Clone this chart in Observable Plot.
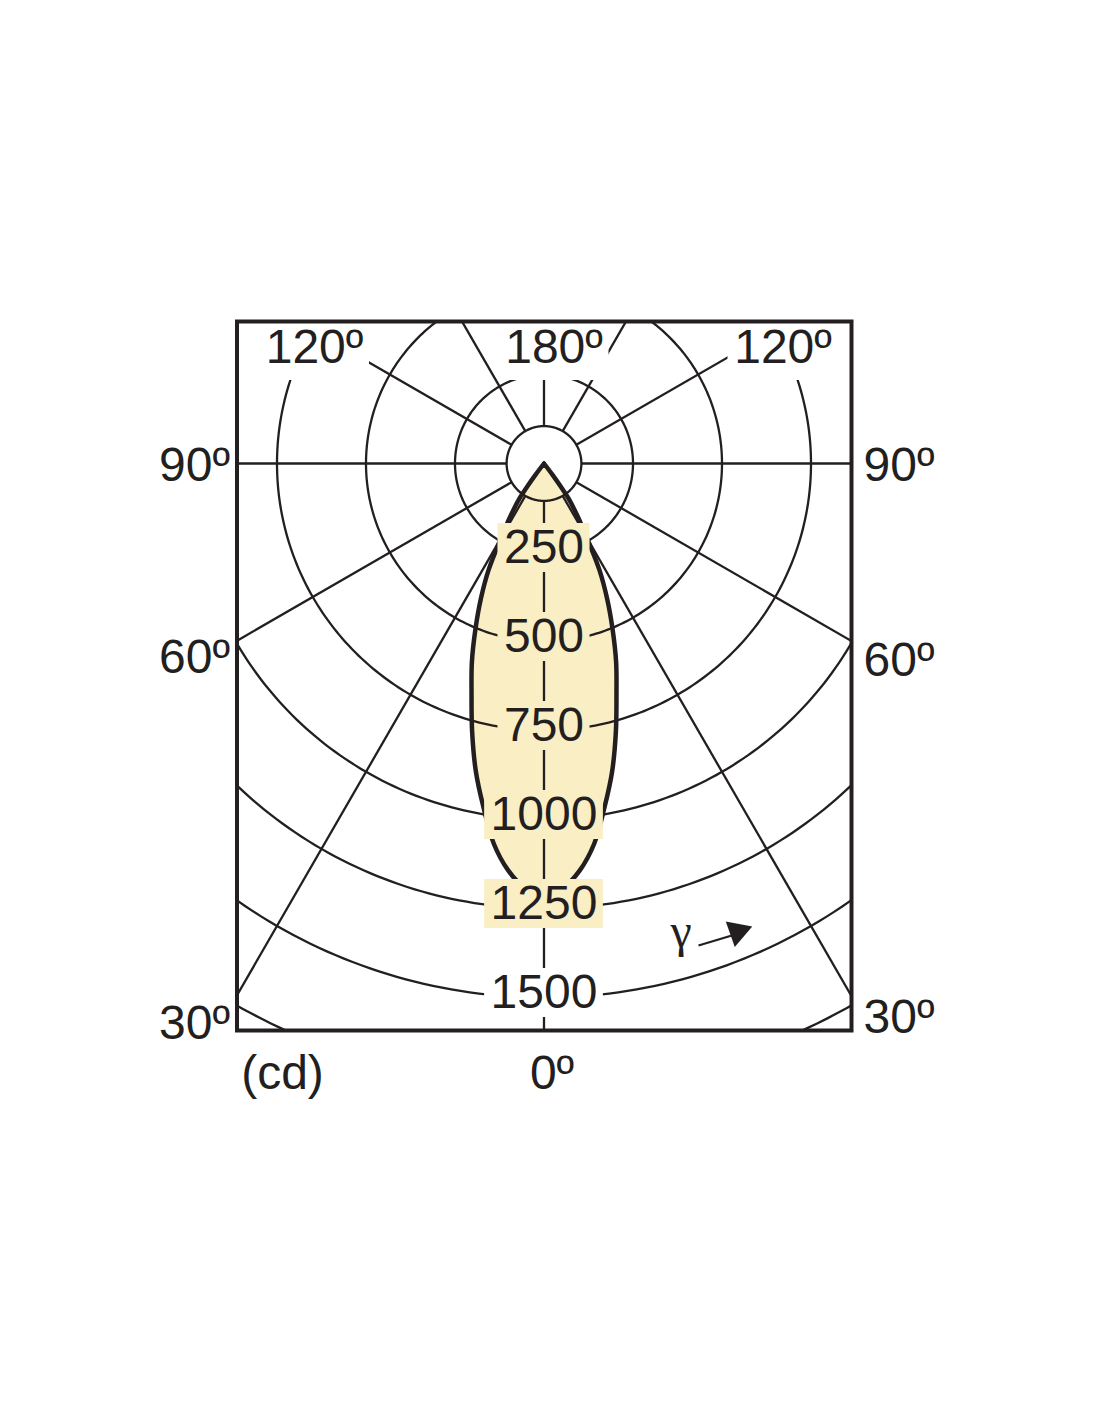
<!DOCTYPE html>
<html><head><meta charset="utf-8">
<script src="https://cdn.jsdelivr.net/npm/d3@7"></script>
<script src="https://cdn.jsdelivr.net/npm/@observablehq/plot@0.6"></script>
<style>html,body{margin:0;padding:0;background:#fff}</style>
</head><body><div id="chart"></div>
<script>
// ---- data ----
const gammaDeg    = [0, 2.5, 5, 7.5, 10, 12.5, 15, 17.5, 20, 22.5, 25, 27.5, 30, 32.5, 35, 36, 37, 38];
const intensityCd = [1215, 1195, 1148, 1078, 980, 885, 780, 677, 592, 503, 420, 337, 240, 175, 120, 80, 40, 0];
const ringValues  = [250, 500, 750, 1000, 1250, 1500, 1750];
const ringLabels  = ["250", "500", "750", "1000", "1250", "1500"];
const spokeAngles = [-150, -120, -90, -60, -30, 0, 30, 60, 90, 120, 150, 180];
const innerRadius = 105;
const topLabels   = ["120º", "180º", "120º"];
const leftLabels  = ["90º", "60º", "30º"];
const rightLabels = ["90º", "60º", "30º"];
const unitLabel   = "(cd)";
const zeroLabel   = "0º";
const gammaLabel  = "γ";

// ---- layout helpers ----
const k = 250 / 89;              // cd per pixel
const cx = 543.5, cy = 463;      // pole position in pixels
const toX = px => (px - cx) * k;
const toY = py => (cy - py) * k;
const rad = d => d * Math.PI / 180;
const ink = "#231f20";
const cream = "#faeec4";
const FS = 48;

// beam outline (symmetric)
const half = gammaDeg.map((g, i) => ({g, I: intensityCd[i]}));
const outline = [...half.slice(1).reverse().map(d => ({g: -d.g, I: d.I})), ...half]
  .map(d => ({x: d.I * Math.sin(rad(d.g)), y: -d.I * Math.cos(rad(d.g))}));

// rings
const ringPts = [...ringValues, innerRadius].flatMap(r =>
  d3.range(0, 361, 1).map(a => ({ring: r, x: r * Math.sin(rad(a)), y: -r * Math.cos(rad(a))})));

// ring label boxes
const ringLab = ringLabels.map(t => {
  const v = +t, w = t.length * 0.556 * FS + 12;
  return {t, v, x1: -w / 2 * k, x2: w / 2 * k, y1: -v - 20 * k, y2: -v + 29 * k};
});

const topPos = [314, 553.5, 782.5];
const topLab = topLabels.map((t, i) => {
  const x = toX(topPos[i]), w = 110 * k;
  return {t, x, y: toY(362), x1: x - w / 2, x2: x + w / 2, y1: toY(380), y2: toY(300)};
});
const leftY = [480, 672, 1038], rightY = [480, 675, 1032];
const leftLab = leftLabels.map((t, i) => ({t, x: toX(229.5), y: toY(leftY[i])}));
const rightLab = rightLabels.map((t, i) => ({t, x: toX(863), y: toY(rightY[i])}));
const bottomLab = [{t: unitLabel, x: toX(282), y: toY(1088)}, {t: zeroLabel, x: toX(551.5), y: toY(1088)}];

const plot = Plot.plot({
  width: 1100, height: 1422,
  marginLeft: 236.5, marginRight: 249, marginTop: 321, marginBottom: 392,
  x: {domain: [toX(236.5), toX(851)], axis: null},
  y: {domain: [toY(1030), toY(321)], axis: null},
  style: {fontFamily: "'Liberation Sans', Arial, sans-serif", background: "white", color: ink},
  marks: [
    Plot.line(outline, {x: "x", y: "y", fill: cream, stroke: "none", curve: "catmull-rom"}),
    Plot.line(ringPts, {x: "x", y: "y", z: "ring", stroke: ink, strokeWidth: 2.3, clip: true}),
    Plot.link(spokeAngles, {
      x1: a => innerRadius * Math.sin(rad(a)), y1: a => -innerRadius * Math.cos(rad(a)),
      x2: a => 4000 * Math.sin(rad(a)), y2: a => -4000 * Math.cos(rad(a)),
      stroke: ink, strokeWidth: 2.3, clip: true
    }),
    Plot.line(outline, {x: "x", y: "y", stroke: ink, strokeWidth: 4.5, curve: "catmull-rom", strokeLinejoin: "round"}),
    Plot.rect(ringLab.filter(d => d.v <= 1250), {x1: "x1", x2: "x2", y1: "y1", y2: "y2", fill: cream, clip: true}),
    Plot.rect(ringLab.filter(d => d.v > 1250), {x1: "x1", x2: "x2", y1: "y1", y2: "y2", fill: "white", clip: true}),
    Plot.rect(topLab, {x1: "x1", x2: "x2", y1: "y1", y2: "y2", fill: "white", clip: true}),
    Plot.text(ringLab, {x: 0, y: d => -d.v, text: "t", dy: 10, fontSize: FS, lineAnchor: "bottom", fill: ink}),
    Plot.text(topLab, {x: "x", y: "y", text: "t", fontSize: FS, lineAnchor: "bottom", fill: ink}),
    Plot.text(leftLab, {x: "x", y: "y", text: "t", fontSize: FS, lineAnchor: "bottom", textAnchor: "end", fill: ink}),
    Plot.text(rightLab, {x: "x", y: "y", text: "t", fontSize: FS, lineAnchor: "bottom", textAnchor: "start", fill: ink}),
    Plot.text(bottomLab, {x: "x", y: "y", text: "t", fontSize: FS, lineAnchor: "bottom", fill: ink}),
    Plot.text([gammaLabel], {x: toX(680.5), y: toY(946), text: d => d, fontSize: 48, lineAnchor: "bottom",
      fontFamily: "'Liberation Serif', serif", fill: ink}),
    Plot.link([0], {x1: toX(698), y1: toY(945), x2: toX(733), y2: toY(934.5), stroke: ink, strokeWidth: 2.3}),
    Plot.dot([0], {x: toX(737.1), y: toY(931.2), symbol: "triangle", r: 10, rotate: 70.5, fill: ink, stroke: "none"}),
    Plot.frame({stroke: ink, strokeWidth: 4})
  ]
});
document.getElementById("chart").appendChild(plot);
</script>
</body></html>
